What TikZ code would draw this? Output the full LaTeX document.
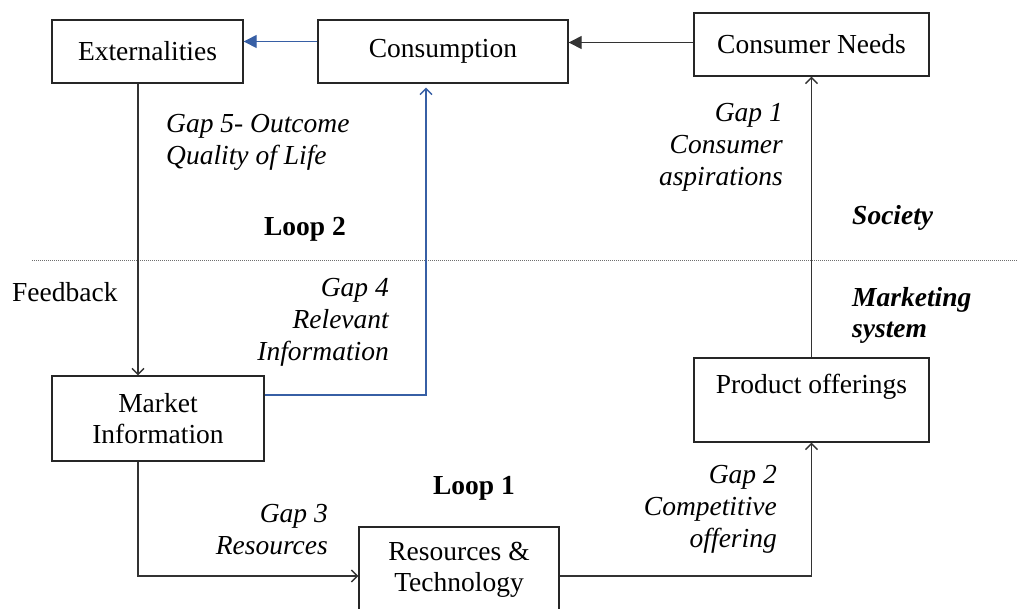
\documentclass[tikz,border=0pt]{standalone}
\usepackage{fontspec}
\setmainfont{Liberation Serif}
\usetikzlibrary{arrows.meta}
\definecolor{lineblue}{RGB}{55,95,165}
\definecolor{dotgray}{RGB}{110,110,110}
\tikzset{
  txt/.style={font=\fontsize{27.5}{31.5}\selectfont, inner sep=0pt},
  box/.style={txt, draw=black!85, line width=1.4pt, align=center},
  conn/.style={line width=1.4pt, draw=black!80},
  bconn/.style={line width=1.4pt, draw=lineblue},
  openarr/.style={-{Straight Barb[length=6pt,width=12pt,line width=1.3pt]}},
  fillarr/.style={-{Triangle[length=13pt,width=13pt]}},
  gaptxt/.style={txt, font=\fontsize{27.5}{32}\selectfont\itshape},
  boldtxt/.style={txt, font=\fontsize{27.5}{31.5}\selectfont\bfseries},
  bitxt/.style={txt, font=\fontsize{27.5}{31.5}\selectfont\bfseries\itshape}
}
\begin{document}
\begin{tikzpicture}[x=1pt,y=-1pt]
\useasboundingbox (0,0) rectangle (1017,608);
\clip (0,0) rectangle (1017,608);
\fill[white] (0,0) rectangle (1017,608);

% boxes
\node[box, minimum width=191pt, minimum height=63pt] (ext) at (147.5,51.5) {Externalities};
\node[box, minimum width=250pt, minimum height=63pt] (cons) at (443,51.5) {Consumption};
\node[box, minimum width=235pt, minimum height=63pt] (cn) at (811.5,44.5) {Consumer Needs};
\node[box, minimum width=212pt, minimum height=85pt] (mi) at (158,418.5) {Market\\Information};
\node[box, minimum width=235pt, minimum height=84pt] (po) at (811.5,400) {Product offerings\\\mbox{}};
\node[box, minimum width=200pt, minimum height=86pt] (rt) at (459,570) {Resources \&\\Technology};

% dotted divider
\coordinate (dl) at (32,260);
\coordinate (dr) at (1017,260);
\draw[dotgray, line width=0.9pt, dash pattern=on 1pt off 1pt] (dl) -- (dr);

% connectors
\draw[conn, fillarr] ([yshift=2pt]cn.west) -- ([yshift=2pt]cons.east |- cn.west);
\draw[bconn, -{Triangle[length=13pt,width=13pt,fill=lineblue]}] ([yshift=10pt]cons.west) -- ([yshift=10pt]ext.east);
\draw[conn, openarr] ([xshift=-9.5pt]ext.south) -- ([xshift=-20pt]mi.north);
\draw[bconn, openarr, shorten >=4pt] ([yshift=23.5pt]mi.east) -| ([xshift=-17pt]cons.south);
\draw[conn, openarr] ([xshift=-20pt]mi.south) |- ([yshift=-6pt]rt.west);
\draw[conn, openarr] ([yshift=-6pt]rt.east) -| (po.south);
\draw[conn, openarr] (po.north) -- (cn.south);

% labels
\node[gaptxt, anchor=west, align=left] (gap5) at (166,142) {Gap 5- Outcome\\Quality of Life};
\node[boldtxt] (loop2) at (305,229) {Loop 2};
\node[txt, anchor=west] (fb) at (12,292) {Feedback};
\node[gaptxt, anchor=east, align=right] (gap4) at (389,322.5) {Gap 4\\Relevant\\Information};
\node[gaptxt, anchor=east, align=right] (gap1) at (783,147.5) {Gap 1\\Consumer\\aspirations};
\node[bitxt, anchor=west] (soc) at (852,218) {Society};
\node[bitxt, anchor=west, align=left] (mkt) at (852,315.5) {Marketing\\system};
\node[boldtxt] (loop1) at (474,488) {Loop 1};
\node[gaptxt, anchor=east, align=right] (gap3) at (328,529.5) {Gap 3\\Resources};
\node[gaptxt, anchor=east, align=right] (gap2) at (777,509) {Gap 2\\Competitive\\offering};
\end{tikzpicture}
\end{document}
